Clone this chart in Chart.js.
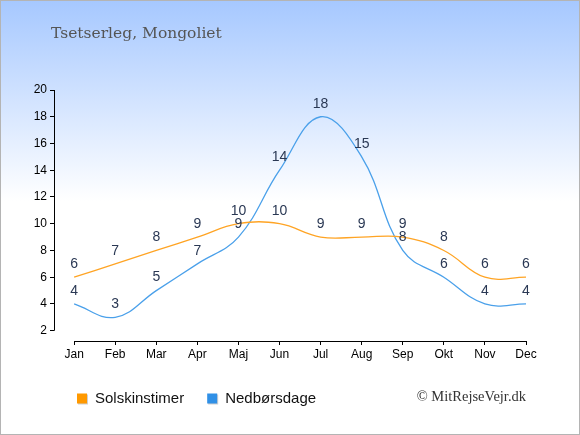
<!DOCTYPE html>
<html>
<head>
<meta charset="utf-8">
<script src="https://cdn.jsdelivr.net/npm/chart.js@4.4.1/dist/chart.umd.min.js"></script>
<style>
    html, body { margin: 0; padding: 0; background: #fff; }
    #wrap {
        width: 578px; height: 433px;
        border: 1px solid #b4b4b4;
        background: linear-gradient(to bottom, #a6c8ff 0px, #ffffff 200px);
    }
    canvas { display: block; }
</style>
</head>
<body>
<div id="wrap"><canvas id="weather_canvas" width="578" height="433"></canvas></div>
<script>
// data
const TITLE_TEXT = 'Tsetserleg, Mongoliet';
const MONTHS = ['Jan', 'Feb', 'Mar', 'Apr', 'Maj', 'Jun', 'Jul', 'Aug', 'Sep', 'Okt', 'Nov', 'Dec'];
const SUN_HOURS = [6, 7, 8, 9, 10, 10, 9, 9, 9, 8, 6, 6];
const RAIN_DAYS = [4, 3, 5, 7, 9, 14, 18, 15, 8, 6, 4, 4];
const Y_TICKS = [2, 4, 6, 8, 10, 12, 14, 16, 18, 20];
const SERIES_NAMES = ['Solskinstimer', 'Nedbørsdage'];
const LINE_COLORS = ['#ffa424', '#4aa0ea'];
const BOX_COLORS = ['#ff9900', '#3090e6'];
const COPYRIGHT = '\u00a9 MitRejseVejr.dk';

Chart.defaults.font.family = 'Arial, "Liberation Sans", sans-serif';

function to_points(values) {
    return values.map((v, i) => ({x: i, y: v}));
}

// same pixel snapping chart.js uses for 1px lines
function align(px) {
    return Math.round(px - 0.5) + 0.5;
}

// axis lines only span the ticks, not the whole chart area
const axis_lines = {
    id: 'axis_lines',
    afterDraw(chart) {
        const ctx = chart.ctx;
        const x = chart.scales.x;
        const y = chart.scales.y;
        ctx.save();
        ctx.strokeStyle = '#000';
        ctx.lineWidth = 1;
        ctx.beginPath();
        ctx.moveTo(align(y.right), y.getPixelForValue(Y_TICKS[Y_TICKS.length - 1]));
        ctx.lineTo(align(y.right), y.getPixelForValue(Y_TICKS[0]));
        ctx.moveTo(x.getPixelForValue(0), align(x.top));
        ctx.lineTo(x.getPixelForValue(MONTHS.length - 1), align(x.top));
        ctx.stroke();
        ctx.restore();
    }
};

// value labels above each point
const value_labels = {
    id: 'value_labels',
    afterDatasetsDraw(chart) {
        const ctx = chart.ctx;
        ctx.save();
        ctx.font = '14px Arial, "Liberation Sans", sans-serif';
        ctx.fillStyle = '#2a3854';
        ctx.textAlign = 'center';
        ctx.textBaseline = 'middle';
        chart.data.datasets.forEach((ds, di) => {
            const meta = chart.getDatasetMeta(di);
            meta.data.forEach((pt, i) => {
                ctx.fillText(String(ds.data[i].y), pt.x, pt.y - 13);
            });
        });
        ctx.restore();
    }
};

// title, legend and copyright
const decorations = {
    id: 'decorations',
    afterDraw(chart) {
        const ctx = chart.ctx;
        ctx.save();
        ctx.fillStyle = '#555';
        ctx.font = '15.5px "DejaVu Serif", serif';
        ctx.textAlign = 'left';
        ctx.textBaseline = 'alphabetic';
        ctx.fillText(TITLE_TEXT, 50, 37);

        ctx.font = '15px Arial, "Liberation Sans", sans-serif';
        ctx.textBaseline = 'middle';
        let lx = 76;
        const ly = 397.5;
        for (let i = 0; i < SERIES_NAMES.length; i++) {
            ctx.fillStyle = '#cfcfcf';
            ctx.fillRect(lx + 1, ly - 4, 10, 10);
            ctx.fillStyle = BOX_COLORS[i];
            ctx.fillRect(lx, ly - 5, 10, 10);
            ctx.fillStyle = '#111';
            ctx.fillText(SERIES_NAMES[i], lx + 18, ly);
            lx += 18 + ctx.measureText(SERIES_NAMES[i]).width + 23;
        }

        ctx.font = '14.5px "Liberation Serif", "Times New Roman", serif';
        ctx.fillStyle = '#333';
        ctx.textAlign = 'right';
        ctx.fillText(COPYRIGHT, 525, 396.5);
        ctx.restore();
    }
};

let THE_CHART = new Chart(document.getElementById('weather_canvas'), {
    type: 'line',
    data: {
        datasets: [
            {
                label: SERIES_NAMES[0],
                data: to_points(SUN_HOURS),
                borderColor: LINE_COLORS[0],
                borderWidth: 1.3,
                pointRadius: 0,
                tension: 0.4,
                fill: false
            },
            {
                label: SERIES_NAMES[1],
                data: to_points(RAIN_DAYS),
                borderColor: LINE_COLORS[1],
                borderWidth: 1.3,
                pointRadius: 0,
                tension: 0.4,
                fill: false
            }
        ]
    },
    options: {
        responsive: false,
        animation: false,
        layout: {padding: {left: 0, top: 89, right: 53, bottom: 63}},
        plugins: {
            legend: {display: false},
            tooltip: {enabled: false},
            title: {display: false}
        },
        scales: {
            x: {
                type: 'linear',
                min: -0.49,
                max: MONTHS.length - 1,
                afterFit: s => { s.height = 30; },
                afterBuildTicks: s => { s.ticks = MONTHS.map((m, i) => ({value: i})); },
                ticks: {
                    callback: v => MONTHS[v],
                    color: '#000',
                    font: {size: 12},
                    padding: 2,
                    autoSkip: false,
                    maxRotation: 0
                },
                grid: {drawOnChartArea: false, drawTicks: true, tickLength: 4, color: '#000'},
                border: {display: false}
            },
            y: {
                type: 'linear',
                min: 1.23,
                max: 20,
                afterFit: s => { s.width = 53; },
                afterBuildTicks: s => { s.ticks = Y_TICKS.map(v => ({value: v})); },
                ticks: {
                    color: '#000',
                    font: {size: 12},
                    padding: 3
                },
                grid: {drawOnChartArea: false, drawTicks: true, tickLength: 4, color: '#000'},
                border: {display: false}
            }
        }
    },
    plugins: [axis_lines, value_labels, decorations]
});
</script>
</body>
</html>
